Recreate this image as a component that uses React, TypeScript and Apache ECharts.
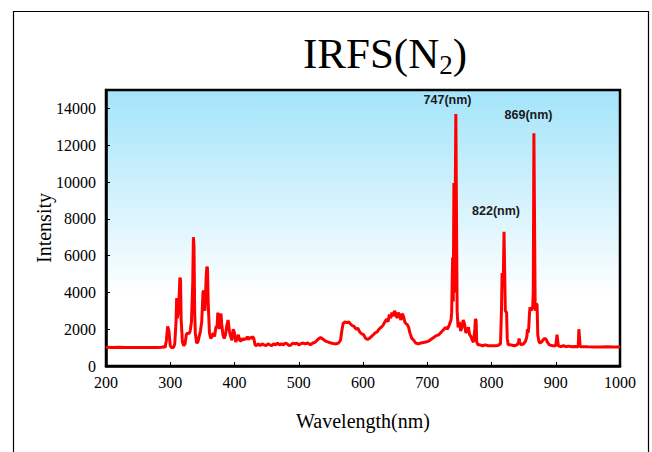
import React, { useEffect, useRef } from "react";
import * as echarts from "echarts";

const wavelength = [
  200, 210, 220, 230, 240, 250, 260, 270, 280, 287, 290, 292, 294, 296, 298, 300, 302, 305, 307, 309,
  310, 311, 313, 315, 316, 317, 319, 321, 323, 325, 327, 329, 331, 333, 335, 336, 337, 338, 339, 341,
  343, 345, 347, 349, 351, 352, 354, 356, 357, 358, 359, 361, 363, 365, 367, 369, 371, 373, 374, 375,
  376, 378, 379, 380, 382, 384, 386, 388, 390, 392, 394, 396, 398, 400, 402, 404, 406, 408, 410, 412,
  414, 416, 418, 420, 422, 424, 426, 428, 430, 432, 434, 437, 440, 443, 446, 449, 452, 455, 458, 461,
  464, 467, 470, 473, 476, 479, 482, 485, 488, 491, 494, 497, 500, 503, 506, 510, 514, 518, 522, 526,
  530, 534, 538, 542, 546, 550, 554, 558, 562, 565, 567, 569, 572, 575, 578, 580, 583, 586, 589, 592,
  595, 598, 601, 604, 607, 610, 613, 616, 619, 622, 625, 628, 631, 634, 637, 639, 641, 643, 645, 647,
  649, 651, 653, 655, 657, 659, 661, 663, 665, 667, 669, 671, 673, 676, 679, 682, 686, 690, 694, 698,
  702, 706, 710, 714, 718, 722, 726, 729, 731, 734, 737, 738, 739.5, 740.5, 741.5, 742.5, 744.5, 745.5, 746.5, 748,
  750, 752, 754, 756, 758, 760, 762, 764, 766, 768, 770, 772, 774, 775, 776, 777, 779, 782, 786, 790,
  795, 800, 805, 810, 814, 815.5, 816.5, 817.5, 818.5, 819.5, 820.5, 821.5, 822.5, 823.5, 824.5, 826, 830, 835, 840, 842,
  843, 844, 846, 850, 853, 855, 856, 857, 858, 859, 860, 861, 862, 863, 864, 865, 866, 867, 868, 869,
  870, 871, 872, 874, 876, 879, 881, 883, 885, 887, 890, 895, 900, 902, 903, 904, 908, 912, 916, 920,
  925, 930, 935, 936, 937, 938, 942, 950, 960, 970, 980, 990, 1000,
];

const intensity = [
  1020, 1010, 1020, 1000, 1010, 1000, 1010, 1000, 1010, 1020, 1050, 1000, 1400, 2150, 1900, 1100, 1000, 1000, 1200, 2400,
  3700, 2600, 3000, 4800, 4700, 2500, 1300, 1100, 1200, 1700, 1800, 1750, 1900, 2400, 4500, 7000, 6500, 3000, 1800, 1250,
  1300, 1600, 1900, 2400, 4000, 4100, 3000, 4900, 5400, 5300, 3500, 1800, 1500, 1600, 1800, 1600, 2100, 2200, 2900, 2700,
  2000, 2700, 2850, 2300, 1700, 1500, 1700, 2200, 2500, 1900, 1600, 1400, 2000, 1800, 1300, 1500, 1700, 1400, 1350, 1500,
  1400, 1500, 1450, 1600, 1450, 1550, 1500, 1600, 1500, 1150, 1100, 1200, 1100, 1200, 1150, 1100, 1200, 1150, 1100, 1200,
  1150, 1250, 1150, 1200, 1150, 1250, 1200, 1100, 1150, 1250, 1200, 1250, 1150, 1200, 1250, 1200, 1250, 1150, 1250, 1300,
  1450, 1550, 1450, 1350, 1300, 1250, 1220, 1200, 1250, 1400, 1900, 2300, 2400, 2350, 2400, 2300, 2200, 2150, 2000, 2050,
  1850, 1750, 1700, 1500, 1450, 1500, 1600, 1700, 1800, 1850, 2000, 2100, 2200, 2400, 2550, 2400, 2800, 2600, 2900, 2700,
  3000, 2850, 2600, 2900, 2750, 2500, 2850, 2700, 2400, 2300, 2250, 2100, 1800, 1500, 1400, 1250, 1200, 1250, 1280, 1300,
  1350, 1450, 1550, 1650, 1700, 1850, 2000, 2100, 2000, 2200, 2500, 2900, 5900, 3500, 9950, 4000, 13700, 13700, 3000, 2100,
  2400, 1900, 2100, 2500, 2300, 1800, 1900, 2100, 1700, 1600, 1400, 1300, 2000, 2550, 2500, 1300, 1150, 1150, 1100, 1150,
  1100, 1100, 1100, 1120, 1200, 3000, 5050, 4900, 5000, 7300, 7300, 3000, 2950, 2900, 1500, 1150, 1150, 1100, 1150, 1300,
  1500, 1300, 1150, 1200, 1350, 1600, 2000, 1800, 2100, 2800, 3200, 3100, 3000, 3200, 3100, 4000, 12650, 12650, 3000, 3000,
  3400, 3300, 1700, 1300, 1250, 1350, 1450, 1500, 1450, 1300, 1150, 1100, 1100, 1700, 1700, 1100, 1050, 1100, 1050, 1080,
  1050, 1060, 1050, 2000, 2000, 1050, 1050, 1040, 1030, 1030, 1040, 1030, 1030,
];

const peakLabels = ["747(nm)", "822(nm)", "869(nm)"];
const peakLabelPos = [
  [731.6, 14450],
  [807, 8405],
  [857.6, 13620],
];

const xTicks = [200, 300, 400, 500, 600, 700, 800, 900, 1000];
const yTickMax = 14000;

export default function App() {
  const ref = useRef<HTMLDivElement>(null);

  useEffect(() => {
    if (!ref.current) return;
    const chart = echarts.init(ref.current, undefined, { renderer: "svg" });
    const serif = "Liberation Serif";
    chart.setOption({
      animation: false,
      backgroundColor: "#ffffff",
      title: {
        text: "{a|IRFS(N}{b|2}{a|)}",
        left: 298,
        top: 23,
        textStyle: {
          fontWeight: "normal",
          rich: {
            a: { fontFamily: serif, fontSize: 43, fontWeight: "normal", color: "#000", lineHeight: 50 },
            b: { fontFamily: serif, fontSize: 27, fontWeight: "normal", color: "#000", lineHeight: 26, verticalAlign: "bottom" },
          },
        },
      },
      graphic: [
        {
          type: "rect",
          shape: { x: 13.5, y: 11.5, width: 635, height: 460 },
          style: { fill: "none", stroke: "#000", lineWidth: 1.2 },
          silent: true,
          z: -1,
        },
      ],
      grid: {
        left: 106,
        top: 90,
        right: 32,
        bottom: 86,
        show: true,
        borderColor: "#000",
        borderWidth: 2.5,
        backgroundColor: new echarts.graphic.LinearGradient(0, 0, 0, 1, [
          { offset: 0, color: "#a3e4fa" },
          { offset: 0.75, color: "#ffffff" },
          { offset: 1, color: "#ffffff" },
        ]),
      },
      xAxis: {
        type: "value",
        min: xTicks[0],
        max: xTicks[xTicks.length - 1],
        interval: 100,
        name: "Wavelength(nm)",
        nameLocation: "middle",
        nameGap: 45,
        nameMoveOverlap: false,
        nameTextStyle: { fontFamily: serif, fontSize: 20, color: "#000" },
        axisLine: { lineStyle: { color: "#000", width: 2.5 } },
        axisTick: { inside: true, length: 4, lineStyle: { color: "#000", width: 1 } },
        axisLabel: {
          fontFamily: serif,
          fontSize: 16,
          color: "#000",
          margin: 8,
          formatter: (v: number) => String(v),
        },
        splitLine: { show: false },
      },
      yAxis: {
        type: "value",
        min: 0,
        max: 15000,
        interval: 2000,
        name: "Intensity",
        nameLocation: "middle",
        nameGap: 52,
        nameMoveOverlap: false,
        nameTextStyle: { fontFamily: serif, fontSize: 20, color: "#000" },
        axisLine: { show: true, lineStyle: { color: "#000", width: 2.5 } },
        axisTick: { show: true, inside: true, length: 4, lineStyle: { color: "#000", width: 1 } },
        axisLabel: {
          fontFamily: serif,
          fontSize: 16,
          color: "#000",
          margin: 10,
          formatter: (v: number) => (v > yTickMax ? "" : String(v)),
        },
        splitLine: { show: false },
      },
      series: [
        {
          type: "line",
          data: wavelength.map((w, i) => [w, intensity[i]]),
          showSymbol: false,
          symbol: "none",
          lineStyle: { color: "#ff0000", width: 3 },
          clip: true,
          markPoint: {
            symbol: "circle",
            symbolSize: 0,
            label: {
              show: true,
              position: "inside",
              fontFamily: "Liberation Sans",
              fontWeight: "bold",
              fontSize: 12.5,
              color: "#1a1a1a",
            },
            data: peakLabels.map((t, i) => ({
              coord: peakLabelPos[i],
              value: t,
              label: { formatter: t },
            })),
          },
        },
      ],
    });
    return () => chart.dispose();
  }, []);

  return (
    <div
      ref={ref}
      style={{ position: "absolute", left: 0, top: 0, width: 652, height: 452 }}
    />
  );
}
